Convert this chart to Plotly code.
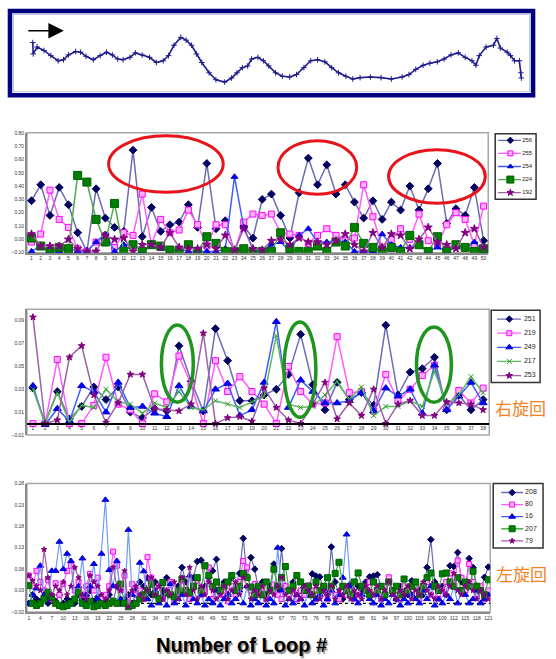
import plotly.graph_objects as go

W, H = 556, 659


def px(x):
    return x / W


def py(y):
    return 1 - y / H


# ---------------- trajectory (top box) ----------------
track_pos = [0, 0.1, 0.9, 2.3, 3.7, 5.2, 6.3, 7.3, 8.8, 9.8, 10.9, 12.4, 13.8, 15.1, 16.3, 17.4,
             18.5, 19.9, 21.0, 22.4, 23.9, 25.3, 26.7, 27.8, 28.9, 30.3, 31.4, 32.5, 33.5, 34.6,
             36.1, 37.5, 39.3, 40.7, 41.8, 42.9, 44.0, 44.8, 46.1, 47.2, 48.3, 49.7, 51.1, 52.6,
             54.0, 55.5, 56.9, 58.3, 59.8, 61.2, 62.6, 64.1, 65.5, 67.0, 69.1, 71.3, 73.4, 75.6,
             77.0, 78.4, 79.9, 81.3, 82.8, 84.2, 85.6, 87.1, 88.5, 89.9, 90.7, 91.4, 92.8, 94.3,
             95.0, 95.7, 97.1, 97.8, 98.6, 99.6, 99.9, 100]
track_h = [15.6, 12.3, 14.3, 13.3, 11.8, 10.3, 10.6, 12.0, 13.0, 12.8, 11.6, 10.6, 11.8, 12.8, 12.0,
           10.8, 10.6, 11.3, 12.6, 12.0, 11.3, 9.8, 10.3, 11.8, 14.8, 17.1, 16.3, 14.8, 12.3, 9.8,
           6.8, 4.8, 4.1, 5.3, 6.8, 8.3, 8.8, 10.8, 11.3, 10.3, 8.8, 6.8, 5.8, 5.6, 6.3, 8.3, 10.3,
           10.6, 10.0, 8.3, 6.8, 5.8, 5.0, 5.4, 5.6, 5.4, 5.0, 5.6, 6.3, 7.8, 9.0, 9.6, 10.0, 10.8,
           12.0, 12.6, 11.3, 10.3, 9.0, 11.8, 14.3, 14.8, 16.8, 14.0, 12.8, 11.8, 10.3, 10.3, 6.8, 5.3]

# ---------------- panel A: loops 1-50 ----------------
loops_a = list(range(1, 51))
a_names = ["256", "255", "254", "224", "192"]
a256 = [0.29, 0.41, 0.18, 0.39, 0.26, 0.05, -0.09, 0.38, 0.16, 0.09, 0.06, 0.67, 0.02, 0.24, 0.06,
        0.11, 0.13, 0.26, 0.09, 0.57, 0.08, 0.14, -0.09, 0.10, 0.01, 0.30, 0.34, 0.18, 0.01, 0.35,
        0.61, 0.41, 0.56, 0.34, 0.41, 0.28, 0.16, 0.29, 0.15, 0.28, 0.22, 0.40, 0.22, 0.38, 0.57,
        0.12, 0.23, 0.18, 0.39, -0.01]
a255 = [-0.02, 0.04, 0.37, 0.15, 0.09, -0.07, -0.09, -0.02, 0.03, -0.06, 0.05, 0.03, 0.34, -0.04,
        0.15, 0.05, 0.07, 0.22, 0.11, -0.05, 0.11, 0.11, -0.09, 0.13, 0.19, 0.18, 0.19, 0.05, 0.04,
        0.03, -0.03, 0.03, 0.08, 0.03, -0.01, 0.01, 0.41, 0.17, -0.06, 0.00, 0.08, 0.00, 0.19, -0.01,
        -0.04, 0.11, 0.20, 0.15, -0.04, 0.25]
a254 = [-0.09, -0.05, -0.09, -0.09, -0.06, -0.09, -0.09, -0.02, 0.04, -0.09, -0.04, -0.04, -0.09,
        -0.05, -0.07, -0.09, -0.07, -0.09, -0.09, -0.09, -0.09, -0.07, 0.47, 0.09, -0.07, -0.09,
        -0.04, -0.02, -0.09, 0.03, 0.08, -0.02, -0.02, -0.01, -0.02, -0.09, -0.09, -0.09, 0.04,
        -0.04, -0.06, -0.06, -0.05, -0.09, -0.06, -0.09, -0.06, -0.07, -0.02, -0.09]
a224 = [0.01, -0.05, -0.09, -0.06, -0.07, 0.48, 0.43, 0.15, -0.02, 0.27, -0.09, -0.04, -0.09, -0.04,
        -0.05, -0.08, -0.09, -0.04, -0.09, 0.02, -0.03, -0.09, -0.09, -0.07, -0.09, -0.09, -0.09,
        0.05, -0.07, -0.09, -0.09, -0.05, -0.09, -0.02, -0.05, 0.09, -0.03, -0.06, -0.09, -0.06,
        -0.09, 0.03, -0.04, -0.09, 0.02, -0.09, -0.04, -0.06, -0.09, -0.07]
a192 = [0.04, -0.05, -0.05, -0.05, 0.00, -0.07, -0.09, -0.09, 0.03, 0.00, 0.01, -0.09, -0.04, -0.04,
        -0.06, 0.05, -0.06, -0.07, -0.07, -0.04, -0.07, 0.03, -0.08, 0.08, -0.07, -0.08, -0.01, 0.00,
        -0.04, 0.01, -0.02, -0.02, -0.04, -0.01, 0.04, -0.04, -0.09, 0.05, -0.06, 0.04, 0.03, -0.07,
        0.00, 0.09, -0.02, -0.04, -0.07, 0.05, 0.08, -0.06]
a_ticks = [-0.10, 0.00, 0.10, 0.20, 0.30, 0.40, 0.50, 0.60, 0.70, 0.80]

# ---------------- panel B: loops 1-38 (右旋回) ----------------
loops_b = list(range(1, 39))
b_names = ["251", "219", "249", "217", "253"]
b251 = [0.031, 0.001, 0.028, 0.004, 0.015, 0.032, 0.021, 0.032, 0.010, 0.005, 0.013, 0.011, 0.068,
        0.037, 0.011, 0.083, 0.055, 0.020, 0.020, 0.025, 0.030, 0.043, 0.078, 0.034, 0.012, 0.036,
        0.021, 0.027, 0.016, 0.086, 0.025, 0.045, 0.048, 0.058, 0.012, 0.025, 0.012, 0.021]
b219 = [0.0, 0.0, 0.056, 0.0, 0.0, 0.016, 0.058, 0.017, 0.012, 0.0, 0.026, 0.019, 0.059, 0.034, 0.0,
        0.055, 0.028, 0.041, 0.028, 0.017, 0.0, 0.050, 0.028, 0.017, 0.018, 0.076, 0.027, 0.028,
        0.011, 0.043, 0.020, 0.030, 0.042, 0.051, 0.014, 0.029, 0.018, 0.031]
b249 = [0.033, -0.001, 0.013, 0.002, 0.033, 0.028, 0.010, 0.036, 0.014, 0.015, 0.009, 0.006, 0.033,
        0.015, 0.011, 0.030, 0.035, 0.007, 0.012, 0.036, 0.089, 0.014, 0.038, 0.028, 0.018, 0.018,
        0.020, 0.027, 0.011, 0.031, 0.024, 0.030, 0.009, 0.051, 0.012, 0.024, 0.036, 0.018]
b217 = [0.030, 0.000, 0.027, 0.001, 0.016, 0.014, 0.030, 0.019, 0.017, 0.009, 0.018, 0.014, 0.028,
        0.014, 0.012, 0.020, 0.017, 0.014, 0.019, 0.024, 0.077, 0.017, 0.014, 0.015, 0.025, 0.037,
        0.021, 0.032, 0.007, 0.015, 0.015, 0.020, 0.015, 0.046, 0.017, 0.025, 0.041, 0.027]
b253 = [0.093, 0.000, 0.003, 0.058, 0.068, 0.025, 0.001, 0.018, 0.043, 0.043, 0.013, 0.012, 0.011,
        0.017, 0.079, 0.000, 0.005, 0.006, 0.002, 0.031, 0.014, 0.003, 0.000, 0.017, 0.036, 0.004,
        0.018, 0.007, 0.030, 0.000, 0.017, 0.020, 0.007, 0.007, 0.019, 0.018, 0.017, 0.012]
b_ticks = [-0.01, 0.01, 0.03, 0.05, 0.07, 0.09]

# ---------------- panel C: loops 1-121 (左旋回) ----------------
loops_c = list(range(1, 122))
c_names = ["208", "80", "16", "207", "79"]
c208 = [0.000, 0.020, 0.010, 0.005, 0.030, 0.000, 0.010, 0.005, 0.020, 0.000,
        0.010, 0.005, 0.000, 0.020, 0.010, 0.000, 0.030, 0.005, 0.015, 0.000,
        0.010, 0.020, 0.005, 0.040, 0.000, 0.010, 0.020, 0.000, 0.030, 0.050,
        0.040, 0.060, 0.020, 0.050, 0.010, 0.030, 0.060, 0.020, 0.010, 0.040,
        0.084, 0.050, 0.020, 0.060, 0.098, 0.101, 0.040, 0.060, 0.076, 0.103,
        0.030, 0.050, 0.020, 0.060, 0.040, 0.070, 0.152, 0.060, 0.107, 0.080,
        0.030, 0.050, 0.020, 0.040, 0.092, 0.030, 0.128, 0.040, 0.020, 0.050,
        0.010, 0.030, 0.040, 0.020, 0.069, 0.064, 0.062, 0.030, 0.020, 0.132,
        0.050, 0.020, 0.010, 0.030, 0.045, 0.020, 0.040, 0.030, 0.050, 0.062,
        0.064, 0.067, 0.040, 0.020, 0.050, 0.030, 0.010, 0.040, 0.030, 0.020,
        0.053, 0.040, 0.030, 0.020, 0.084, 0.149, 0.050, 0.030, 0.040, 0.020,
        0.088, 0.086, 0.119, 0.050, 0.030, 0.105, 0.084, 0.040, 0.030, 0.061, 0.085]
c80 = [0.065, 0.040, 0.076, 0.050, 0.030, 0.055, 0.010, 0.047, 0.020, 0.045,
       0.076, 0.088, 0.030, 0.050, 0.020, 0.040, 0.069, 0.030, 0.060, 0.010,
       0.020, 0.040, 0.121, 0.088, 0.030, 0.065, 0.000, 0.045, 0.020, 0.030,
       0.010, 0.108, 0.060, 0.020, 0.040, 0.010, 0.030, 0.050, 0.005, 0.020,
       0.053, 0.030, 0.010, 0.040, 0.053, 0.020, 0.030, 0.084, 0.010, 0.040,
       0.020, 0.030, 0.005, 0.040, 0.020, 0.050, 0.099, 0.084, 0.030, 0.045,
       0.020, 0.040, 0.010, 0.030, 0.044, 0.020, 0.010, 0.040, 0.020, 0.030,
       0.010, 0.030, 0.020, 0.042, 0.030, 0.010, 0.020, 0.040, 0.010, 0.030,
       0.020, 0.010, 0.040, 0.020, 0.030, 0.010, 0.020, 0.040, 0.030, 0.050,
       0.020, 0.030, 0.010, 0.040, 0.061, 0.030, 0.020, 0.010, 0.040, 0.030,
       0.020, 0.040, 0.010, 0.030, 0.050, 0.020, 0.040, 0.010, 0.030, 0.050,
       0.070, 0.040, 0.100, 0.060, 0.030, 0.092, 0.050, 0.020, 0.040, 0.010, 0.030]
c16 = [0.000, 0.020, 0.035, 0.088, 0.020, 0.010, 0.076, 0.076, 0.144, 0.080,
       0.116, 0.099, 0.010, 0.040, 0.105, 0.020, 0.040, 0.092, 0.010, 0.116,
       0.242, 0.078, 0.040, 0.099, 0.010, 0.000, 0.172, 0.020, 0.000, 0.095,
       0.075, 0.010, -0.005, 0.030, 0.000, 0.020, -0.005, 0.045, 0.000, 0.010,
       0.020, -0.005, 0.065, 0.010, 0.000, 0.020, -0.005, 0.010, 0.000, 0.030,
       -0.005, 0.010, 0.020, 0.000, 0.010, 0.030, 0.000, 0.040, -0.005, 0.010,
       0.000, 0.020, -0.005, 0.010, 0.000, 0.130, 0.030, -0.005, 0.010, 0.000,
       0.020, 0.010, -0.005, 0.030, 0.000, 0.010, 0.020, -0.005, 0.010, 0.030,
       0.000, 0.020, 0.060, 0.161, 0.040, 0.010, 0.000, 0.020, 0.030, 0.010,
       0.000, 0.020, -0.005, 0.010, 0.000, 0.020, 0.010, -0.005, 0.010, 0.000,
       0.020, 0.010, 0.000, 0.030, 0.010, 0.040, -0.005, 0.010, 0.000, 0.020,
       0.010, 0.040, 0.000, 0.030, 0.020, 0.000, 0.010, 0.030, 0.000, 0.010, 0.020]
c207 = [0.042, 0.000, -0.005, 0.000, 0.010, 0.026, 0.015, 0.000, -0.005, -0.008,
        -0.005, 0.000, 0.010, 0.026, 0.000, -0.005, 0.005, -0.008, -0.005, 0.000,
        -0.005, 0.000, 0.005, 0.000, 0.045, 0.000, -0.008, -0.005, 0.000, 0.010,
        0.020, 0.030, 0.045, 0.020, 0.010, 0.049, 0.025, 0.020, 0.015, 0.030,
        0.057, 0.030, 0.025, 0.040, 0.060, 0.030, 0.088, 0.065, 0.040, 0.050,
        0.030, 0.040, 0.050, 0.065, 0.030, 0.040, 0.070, 0.060, 0.038, 0.020,
        0.040, 0.020, 0.050, 0.030, 0.080, 0.040, 0.060, 0.086, 0.030, 0.040,
        0.065, 0.050, 0.030, 0.040, 0.020, 0.050, 0.030, 0.040, 0.060, 0.040,
        0.070, 0.096, 0.040, 0.030, 0.020, 0.050, 0.071, 0.040, 0.030, 0.020,
        0.050, 0.030, 0.040, 0.020, 0.050, 0.030, 0.040, 0.020, 0.057, 0.030,
        0.040, 0.050, 0.020, 0.040, 0.060, 0.071, 0.040, 0.030, 0.069, 0.071,
        0.050, 0.040, 0.060, 0.030, 0.050, 0.040, 0.075, 0.040, 0.030, 0.020, 0.055]
c79 = [0.065, 0.053, 0.040, 0.030, 0.126, 0.060, 0.020, 0.040, 0.030, 0.050,
       0.020, 0.040, 0.084, 0.060, 0.020, 0.010, 0.065, 0.050, 0.040, 0.020,
       0.010, 0.030, 0.084, 0.040, 0.030, 0.076, -0.008, 0.030, 0.040, 0.020,
       0.010, 0.030, 0.060, 0.020, 0.040, 0.010, 0.030, 0.020, 0.050, 0.010,
       0.060, 0.020, 0.084, 0.030, 0.010, 0.040, 0.020, 0.050, 0.030, 0.010,
       0.020, 0.040, 0.010, 0.030, 0.050, 0.020, 0.060, 0.040, 0.010, 0.030,
       0.020, 0.040, 0.010, 0.030, 0.020, 0.040, 0.060, 0.020, 0.010, 0.030,
       0.020, 0.010, 0.040, 0.030, 0.020, 0.040, 0.010, 0.030, 0.020, 0.040,
       0.010, 0.030, 0.020, 0.040, 0.010, 0.030, 0.020, 0.010, 0.040, 0.030,
       0.020, 0.040, 0.010, 0.030, 0.050, 0.020, 0.010, 0.030, 0.020, 0.040,
       0.010, 0.030, 0.020, 0.050, 0.030, 0.020, 0.010, 0.040, 0.030, 0.020,
       0.040, 0.070, 0.030, 0.020, 0.040, 0.050, 0.030, 0.010, 0.030, 0.020, 0.010]
c_ticks = [-0.02, 0.03, 0.08, 0.13, 0.18, 0.23, 0.28]
c_xticks = list(range(1, 122, 3))

# ---------------- styles ----------------
NAVY = dict(line="#6c6cb6", sym="diamond", mc="#000060", ml="#000060")
MAG = dict(line="#ff5cff", sym="square", mc="#ffb0ff", ml="#ff00ff")
BLUE = dict(line="#3f5cff", sym="triangle-up", mc="#0000ff", ml="#0000cc")
LBLUE = dict(line="#6f9bff", sym="triangle-up", mc="#0000ff", ml="#0000cc")
GREEN = dict(line="#4caa4c", sym="square", mc="#008000", ml="#006000")
LGREEN = dict(line="#5cba5c", sym="x-thin-open", mc="#2a9a2a", ml="#2a9a2a")
PURP = dict(line="#a060a8", sym="star", mc="#800080", ml="#800080")

fig = go.Figure()

TICKFONT = dict(family="Liberation Sans", size=5, color="#333333")


def add_series(xs, ys, st, size, xa, ya, lw):
    fig.add_trace(go.Scatter(
        x=xs, y=ys, mode="lines+markers", xaxis=xa, yaxis=ya,
        line=dict(color=st["line"], width=lw),
        marker=dict(symbol=st["sym"], size=size, color=st["mc"],
                    line=dict(color=st["ml"], width=1)),
        showlegend=False, hoverinfo="skip"))


def add_legend(names, styles, sizes, xa, ya, x0, x1, xm, xt, fsize):
    for k, (nm, st, sz) in enumerate(zip(names, styles, sizes)):
        fig.add_trace(go.Scatter(
            x=[x0, x1], y=[k + 1, k + 1], mode="lines", xaxis=xa, yaxis=ya,
            line=dict(color=st["line"], width=1.3), showlegend=False, hoverinfo="skip"))
        fig.add_trace(go.Scatter(
            x=[xm], y=[k + 1], mode="markers", xaxis=xa, yaxis=ya,
            marker=dict(symbol=st["sym"], size=sz, color=st["mc"],
                        line=dict(color=st["ml"], width=1)),
            showlegend=False, hoverinfo="skip"))
        fig.add_trace(go.Scatter(
            x=[xt], y=[k + 1], mode="text", text=[nm], textposition="middle right",
            xaxis=xa, yaxis=ya, textfont=dict(family="Liberation Sans", size=fsize, color="#222"),
            showlegend=False, hoverinfo="skip"))


# trajectory
fig.add_trace(go.Scatter(
    x=track_pos, y=track_h, mode="lines+markers", xaxis="x", yaxis="y",
    line=dict(color="#1c1c8c", width=1.6),
    marker=dict(symbol="cross-thin-open", size=4, color="#1c1c8c", line=dict(width=1, color="#1c1c8c")),
    showlegend=False, hoverinfo="skip"))

# panel A
for ys, st, sz in zip([a256, a255, a254, a224, a192], [NAVY, MAG, BLUE, GREEN, PURP], [6, 6, 6, 8, 6]):
    add_series(loops_a, ys, st, sz, "x2", "y2", 1.5)
# panel B
for ys, st, sz in zip([b251, b219, b249, b217, b253], [NAVY, MAG, BLUE, LGREEN, PURP], [6, 6, 7, 5, 5]):
    add_series(loops_b, ys, st, sz, "x3", "y3", 1.5)
# panel C
for ys, st, sz in zip([c208, c80, c16, c207, c79], [NAVY, MAG, LBLUE, GREEN, PURP], [5, 5, 6, 6, 4]):
    add_series(loops_c, ys, st, sz, "x4", "y4", 1.2)

add_legend(a_names, [NAVY, MAG, BLUE, GREEN, PURP], [5, 5, 5, 7, 5], "x5", "y5", 0.07, 0.63, 0.37, 0.66, 6)
add_legend(b_names, [NAVY, MAG, BLUE, LGREEN, PURP], [5, 5, 6, 5, 5], "x6", "y6", 0.12, 0.61, 0.37, 0.67, 7)
add_legend(c_names, [NAVY, MAG, BLUE, GREEN, PURP], [5, 5, 6, 6, 4], "x7", "y7", 0.16, 0.60, 0.38, 0.64, 7)

hidden = dict(visible=False, showgrid=False, zeroline=False, fixedrange=True)

# domains (pixels)
A_X, A_Y = (27, 490), (131, 252)
B_X, B_Y = (27, 491), (309, 436)
C_X, C_Y = (27, 492), (485, 614.5)
B_RANGE = [-0.01, 0.10]
b_zero_pos = py(B_Y[1]) + (0 - B_RANGE[0]) / (B_RANGE[1] - B_RANGE[0]) * (py(B_Y[0]) - py(B_Y[1]))

yax_common = dict(showgrid=False, zeroline=False, showline=True, linecolor="#8a8a8a", linewidth=1.5,
                  ticks="", tickfont=TICKFONT, tickformat=".2f", fixedrange=True)
xax_common = dict(showgrid=False, zeroline=False, ticks="", tickfont=TICKFONT, fixedrange=True)

fig.update_layout(
    width=W, height=H, margin=dict(l=0, r=0, t=0, b=0),
    paper_bgcolor="white", plot_bgcolor="white", showlegend=False,
    xaxis=dict(domain=[px(12), px(533)], range=[-4.25, 102], anchor="y", **hidden),
    yaxis=dict(domain=[py(92), py(9)], range=[0.6, 24.5], anchor="x", **hidden),
    xaxis2=dict(domain=[px(A_X[0]), px(A_X[1])], range=[0.5, 50.5], anchor="y2",
                tickvals=loops_a, showline=True, linecolor="#8a8a8a", linewidth=1.5, **xax_common),
    yaxis2=dict(domain=[py(A_Y[1]), py(A_Y[0])], range=[-0.10, 0.80], anchor="x2",
                tickvals=a_ticks, **yax_common),
    xaxis3=dict(domain=[px(B_X[0]), px(B_X[1])], range=[0.5, 38.5], anchor="free",
                position=b_zero_pos, tickvals=loops_b, showline=True, linecolor="#000000",
                linewidth=1.6, **xax_common),
    yaxis3=dict(domain=[py(B_Y[1]), py(B_Y[0])], range=B_RANGE, anchor="x3",
                tickvals=b_ticks, **yax_common),
    xaxis4=dict(domain=[px(C_X[0]), px(C_X[1])], range=[0.5, 121.5], anchor="y4",
                tickvals=c_xticks, showline=True, linecolor="#8a8a8a", linewidth=1.5, **xax_common),
    yaxis4=dict(domain=[py(C_Y[1]), py(C_Y[0])], range=[-0.02, 0.28], anchor="x4",
                tickvals=c_ticks, **yax_common),
    xaxis5=dict(domain=[px(497), px(538)], range=[0, 1], anchor="y5", **hidden),
    yaxis5=dict(domain=[py(198), py(132)], range=[5.5, 0.5], anchor="x5", **hidden),
    xaxis6=dict(domain=[px(493), px(542)], range=[0, 1], anchor="y6", **hidden),
    yaxis6=dict(domain=[py(383), py(310)], range=[5.49, 0.37], anchor="x6", **hidden),
    xaxis7=dict(domain=[px(495), px(545)], range=[0, 1], anchor="y7", **hidden),
    yaxis7=dict(domain=[py(550), py(485)], range=[5.59, 0.26], anchor="x7", **hidden),
)

shapes = []
# box around the trajectory
shapes.append(dict(type="rect", xref="paper", yref="paper", x0=px(10), x1=px(535), y0=py(93), y1=py(8),
                   line=dict(color="#000080", width=4.5), layer="above"))
shapes.append(dict(type="rect", xref="paper", yref="paper", x0=px(13.5), x1=px(531.5), y0=py(89.5),
                   y1=py(11.5), line=dict(color="#a9a9d8", width=0.8), layer="above"))
# plot frames
for xa in ["x2", "x3", "x4"]:
    shapes.append(dict(type="rect", xref=f"{xa} domain", yref=f"{xa.replace('x', 'y')} domain",
                       x0=0, x1=1, y0=0, y1=1, line=dict(color="#a8a8a8", width=1.5), layer="below"))
# dotted zero line in panel C
shapes.append(dict(type="line", xref="x4 domain", yref="y4", x0=0, x1=1, y0=0, y1=0,
                   line=dict(color="#000000", width=1.3, dash="dot"), layer="below"))
# legend boxes
for (x0, x1, y0, y1) in [(497, 538, 132, 198), (493, 542, 310, 383), (495, 545, 485, 550)]:
    shapes.append(dict(type="rect", xref="paper", yref="paper", x0=px(x0), x1=px(x1), y0=py(y1),
                       y1=py(y0), line=dict(color="#333333", width=1.5), fillcolor="rgba(0,0,0,0)"))
# highlight rings, panel A (red)
for (x0, x1, y0, y1) in [(109, 224, 134, 191), (279, 358, 139, 193), (390, 487, 148, 202)]:
    shapes.append(dict(type="circle", xref="paper", yref="paper", x0=px(x0), x1=px(x1), y0=py(y1),
                       y1=py(y0), line=dict(color="#e8141c", width=3), layer="above"))
# highlight rings, panel B (green)
for (x0, x1, y0, y1) in [(162, 194, 325, 403), (285, 317, 322, 418), (418, 453, 327, 403)]:
    shapes.append(dict(type="circle", xref="paper", yref="paper", x0=px(x0), x1=px(x1), y0=py(y1),
                       y1=py(y0), line=dict(color="#1e961e", width=3.5), layer="above"))
fig.update_layout(shapes=shapes)

annotations = [
    dict(x=px(64), y=py(28), xref="paper", yref="paper", ax=-37, ay=0, axref="pixel",
         ayref="pixel", text="", showarrow=True, arrowhead=2, arrowsize=2.2, arrowwidth=1.4,
         arrowcolor="#000000"),
    dict(x=px(522), y=py(408), xref="paper", yref="paper", text="右旋回", showarrow=False,
         xanchor="center", yanchor="middle",
         font=dict(family="Noto Sans CJK JP", size=17, color="#f5821f")),
    dict(x=px(523), y=py(576), xref="paper", yref="paper", text="左旋回", showarrow=False,
         xanchor="center", yanchor="middle",
         font=dict(family="Noto Sans CJK JP", size=17, color="#f5821f")),
    dict(x=px(242), y=py(648), xref="paper", yref="paper", text="<b>Number of Loop #</b>",
         showarrow=False, xanchor="center", yanchor="middle",
         font=dict(family="Liberation Sans", size=20, color="#000000",
                   shadow="1.5px 1.5px 1px #8c8c8c")),
]
fig.update_layout(annotations=annotations)

fig.write_html("out.html")
